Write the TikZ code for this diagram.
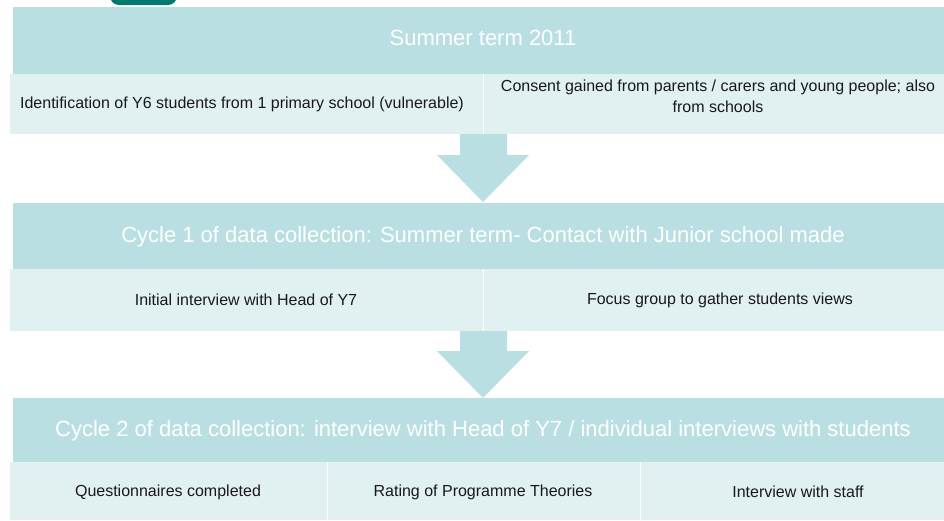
\documentclass[tikz,border=0pt]{standalone}
\usepackage{fontspec}
\setmainfont{Liberation Sans}
\definecolor{hdrc}{RGB}{185,223,226}
\definecolor{subc}{RGB}{225,240,241}
\definecolor{tealc}{RGB}{0,122,112}
\begin{document}
\begin{tikzpicture}[x=1pt,y=-1pt,
  hdrtext/.style={text=white, font=\fontsize{22}{26}\selectfont, inner sep=0},
  subtext/.style={text=black!90, font=\fontsize{16}{21}\selectfont, inner sep=0, align=center},
  hdrbox/.style={fill=hdrc},
  subbox/.style={fill=subc},
  sepline/.style={draw=white, line width=1pt},
  blockarrow/.style={fill=hdrc}
]
\useasboundingbox (0,0) rectangle (944,520);
\clip (0,0) rectangle (944,520);
\fill[white] (0,0) rectangle (944,520);
% teal tab at top
\fill[tealc, rounded corners=9] (110,-30) rectangle (177,5);

% ---------- Block 1 ----------
\fill[hdrbox] (12.7,7) rectangle (960,74);
\fill[subbox] (10,74) rectangle (960,134);
\draw[sepline] (483,74) -- (483,134);
\node[hdrtext] (h1) at (483,38) {Summer term 2011};
\node[subtext] (s1a) at (242,104) {Identification of Y6 students from 1 primary school (vulnerable)};
\node[subtext] (s1b) at (718,96) {Consent gained from parents / carers and young people; also\\from schools};

% ---------- Block 2 ----------
\fill[hdrbox] (12.7,203) rectangle (960,269);
\fill[subbox] (10,269) rectangle (960,331);
\draw[sepline] (483,269) -- (483,331);
\node[hdrtext] (h2) at (483,237) {Cycle 1 of data collection: Summer term- Contact with Junior school made};
\node[subtext] (s2a) at (246,300) {Initial interview with Head of Y7};
\node[subtext] (s2b) at (720,300) {Focus group to gather students views};

% ---------- Block 3 ----------
\fill[hdrbox] (12.7,398) rectangle (960,462);
\fill[subbox] (10,462) rectangle (960,520);
\draw[sepline] (327,462) -- (327,520);
\draw[sepline] (640,462) -- (640,520);
\node[hdrtext] (h3) at (483,431) {Cycle 2 of data collection: interview with Head of Y7 / individual interviews with students};
\node[subtext] (s3a) at (168,492) {Questionnaires completed};
\node[subtext] (s3b) at (483,492) {Rating of Programme Theories};
\node[subtext] (s3c) at (798,492) {Interview with staff};

% ---------- Block arrows ----------
\fill[blockarrow] (460,134) -- (507,134) -- (507,155) -- (529,155) -- (483,202)
  -- (437,155) -- (460,155) -- cycle;
\fill[blockarrow] (460,331) -- (507,331) -- (507,351) -- (529,351) -- (483,398)
  -- (437,351) -- (460,351) -- cycle;
\end{tikzpicture}
\end{document}
